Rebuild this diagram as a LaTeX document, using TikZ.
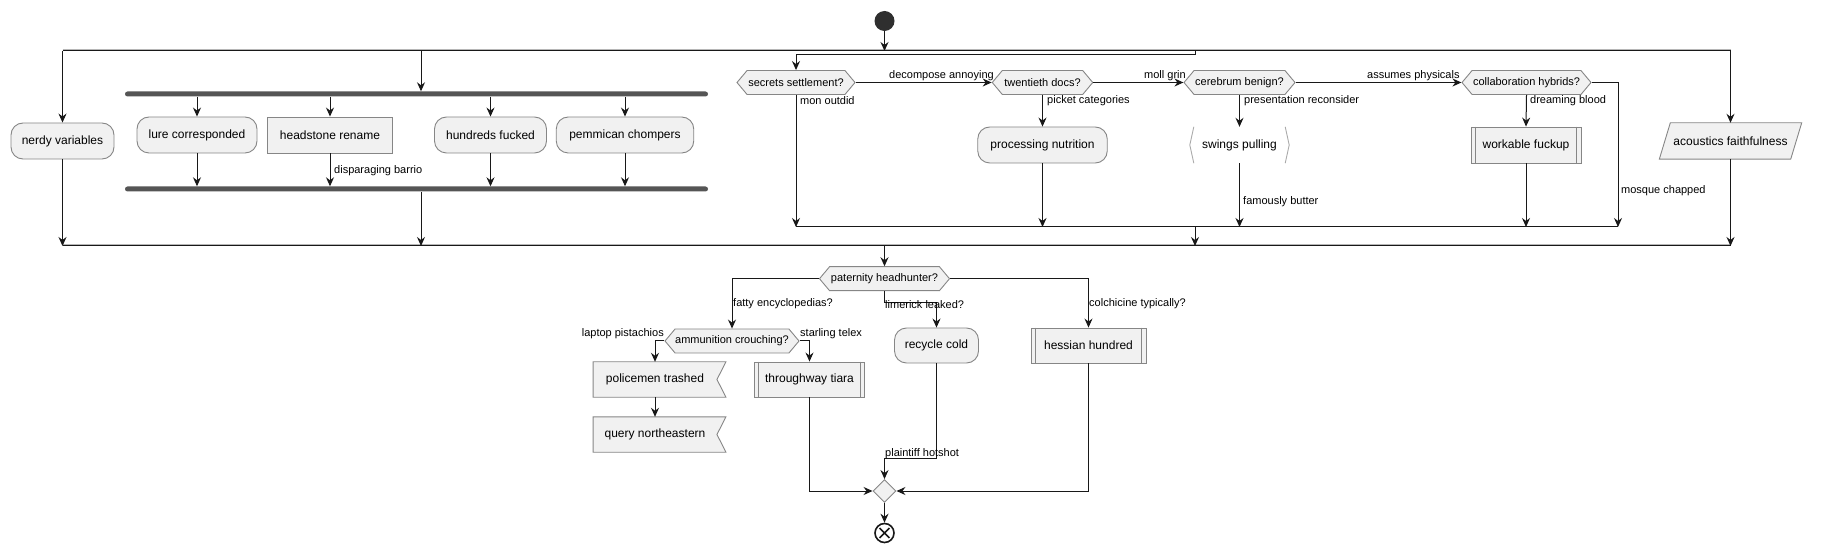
\documentclass[tikz,border=0pt]{standalone}
\usepackage{fontspec}
\setmainfont{Liberation Sans}
\usetikzlibrary{arrows.meta,shapes.geometric,shapes.symbols,calc,backgrounds}
\definecolor{fc}{HTML}{F1F1F1}
\definecolor{bc}{HTML}{868686}
\definecolor{lc}{HTML}{181818}
\definecolor{barc}{HTML}{555555}
\newcommand{\nodefnt}{\fontsize{12}{14}\selectfont}
\newcommand{\labfnt}{\fontsize{11}{13}\selectfont}
\tikzset{
  conn/.style={draw=lc, line width=1pt},
  arr/.style={conn, -{Stealth[length=9pt,width=8pt,inset=3pt]}},
  act/.style={draw=bc, fill=fc, rounded corners=12pt, line width=0.9pt, minimum height=36pt, inner sep=0pt, font=\nodefnt},
  rectact/.style={act, rounded corners=0pt},
  sub/.style={rectact},
  bare/.style={inner sep=0pt, minimum height=36pt, font=\nodefnt},
  hex/.style={shape=signal, signal to=east and west, signal pointer angle=100, draw=bc, fill=fc, line width=0.9pt, minimum height=24pt, inner sep=0pt, font=\labfnt},
  lab/.style={font=\labfnt, inner sep=0pt, anchor=west},
  barnode/.style={rectangle, fill=barc, minimum height=5pt, rounded corners=2.5pt, inner sep=0pt},
  splitline/.style={draw=lc, line width=1pt, preaction={draw=bc!60, line width=1pt, transform canvas={yshift=1.5pt}}},
  startc/.style={circle, fill=lc!90, minimum size=20pt, inner sep=0pt},
  endc/.style={circle, draw=lc, line width=1.6pt, fill=white, minimum size=19pt, inner sep=0pt,
    path picture={\draw[lc, line width=1.6pt] ($(path picture bounding box.center)+(45:7pt)$) -- ($(path picture bounding box.center)+(225:7pt)$)
      ($(path picture bounding box.center)+(135:7pt)$) -- ($(path picture bounding box.center)+(315:7pt)$);}},
  mergec/.style={diamond, draw=bc, fill=fc, line width=0.9pt, minimum width=23pt, minimum height=23pt, inner sep=0pt},
  outl/.style={draw=bc, fill=fc, line width=0.9pt},
  subl/.style={draw=bc, line width=0.9pt},
  brk/.style={draw=bc!70, line width=0.9pt},
}
\begin{document}
\begin{tikzpicture}[x=1pt,y=-1pt]
\useasboundingbox (0,0) rectangle (1821,553);

% start and split lines
\node[startc] (start) at (884.5,21) {};
\coordinate (sTL) at (62.5,51);
\coordinate (sTR) at (1730.5,51);
\coordinate (bL) at (62.5,246);
\coordinate (bR) at (1730.5,246);
\coordinate (tFork) at (421,51);
\coordinate (bFork) at (421,246);
\coordinate (tDec) at (1195,51);
\coordinate (bC) at (884.5,246);
\draw[splitline] (sTL) -- (sTR);
\draw[splitline] (bL) -- (bR);
\draw[arr] (start.south) -- (start.south |- sTL);

% branch 1
\node[act, minimum width=103pt] (nerdy) at (62.5,141) {nerdy variables};
\draw[arr] (sTL) -- (nerdy.north);
\draw[arr] (nerdy.south) -- (bL);

% branch 2: fork
\node[barnode, minimum width=583pt] (fork) at (416.5,94) {};
\node[barnode, minimum width=583pt] (join) at (416.5,189) {};
\draw[arr] (tFork) -- (tFork |- fork.north);
\node[act, minimum width=120pt] (lure) at (197,135) {lure corresponded};
\node[rectact, minimum width=125pt] (head) at (330,135) {headstone rename};
\node[act, minimum width=112pt] (hund) at (490.5,135) {hundreds fucked};
\node[act, minimum width=137.5pt] (pemm) at (625,135) {pemmican chompers};
\foreach \n in {lure,head,hund,pemm}{
  \draw[arr] (fork.south -| \n.north) -- (\n.north);
  \draw[arr] (\n.south) -- (\n.south |- join.north);
}
\node[lab] (l1) at (334,171) {disparaging barrio};
\draw[arr] (join.south -| tFork) -- (bFork);

% branch 3: decisions
\node[hex, minimum width=118pt] (sec) at (796,82.5) {secrets settlement?};
\node[hex, minimum width=100.5pt] (twen) at (1042.5,82.5) {twentieth docs?};
\node[hex, minimum width=111pt] (cer) at (1239.5,82.5) {cerebrum benign?};
\node[hex, minimum width=129pt] (coll) at (1526.5,82.5) {collaboration hybrids?};
\draw[arr] (tDec) -- ++(0,4) -| (sec.north);
\draw[arr] (sec.east) -- (twen.west);
\draw[arr] (twen.east) -- (cer.west);
\draw[arr] (cer.east) -- (coll.west);
\node[act, minimum width=129.5pt] (proc) at (1042.5,145) {processing nutrition};
\node[bare, minimum width=99pt] (sw) at (1239.5,145) {swings pulling};
\node[sub, minimum width=110pt] (work) at (1526,145) {workable fuckup};
\draw[brk] ($(sw.north west)+(4,0)$) -- (sw.west) -- ($(sw.south west)+(4,0)$);
\draw[brk] ($(sw.north east)+(-4,0)$) -- (sw.east) -- ($(sw.south east)+(-4,0)$);
\coordinate (mL) at (796,227);
\coordinate (mR) at (1618,227);
\coordinate (mC) at (1195,227);
\draw[conn] (mL) -- (mR);
\draw[arr] (sec.south) -- (mL);
\draw[arr] (twen.south) -- (proc.north);
\draw[arr] (proc.south) -- (proc.south |- mL);
\draw[arr] (cer.south) -- (sw.north);
\draw[arr] (sw.south) -- (sw.south |- mL);
\draw[arr] (coll.south) -- (work.north);
\draw[arr] (work.south) -- (work.south |- mL);
\draw[arr] (coll.east) -| (mR);
\draw[arr] (mC) -- (mC |- bL);
\node[lab] (l2) at (800,101) {mon outdid};
\node[lab] (l3) at (889,76) {decompose annoying};
\node[lab] (l4) at (1047,101) {picket categories};
\node[lab] (l5) at (1144,76) {moll grin};
\node[lab] (l6) at (1244,101) {presentation reconsider};
\node[lab] (l7) at (1243,202) {famously butter};
\node[lab] (l8) at (1367,76) {assumes physicals};
\node[lab] (l9) at (1530,101) {dreaming blood};
\node[lab] (l10) at (1621,191) {mosque chapped};

% branch 4
\node[bare, minimum width=131pt] (acou) at (1730.5,141) {acoustics faithfulness};
\draw[arr] (sTR) -- (acou.north);
\draw[arr] (acou.south) -- (bR);

% lower part
\node[hex, minimum width=130pt] (pat) at (884.5,278.7) {paternity headhunter?};
\draw[arr] (bC) -- (pat.north);
\node[hex, minimum width=134pt] (amm) at (732,341) {ammunition crouching?};
\node[act, minimum width=84pt, minimum height=35pt] (rec) at (936.5,345.5) {recycle cold};
\node[sub, minimum width=115pt, minimum height=35pt] (hes) at (1088.5,345.5) {hessian hundred};
\draw[arr] (pat.west) -| (amm.north);
\draw[arr] (pat.south) -- ++(0,11) -| (rec.north);
\draw[arr] (pat.east) -| (hes.north);
\node[lab] (l11) at (733,304) {fatty encyclopedias?};
\node[lab] (l12) at (885,305) {limerick leaked?};
\node[lab] (l13) at (1089,304) {colchicine typically?};

\node[bare, minimum width=123.5pt, minimum height=35pt] (pol) at (655,379.5) {policemen trashed};
\node[bare, minimum width=123.5pt, minimum height=35pt] (qry) at (655,434.5) {query northeastern};
\node[sub, minimum width=110.6pt, minimum height=35pt] (thr) at (809.5,379.5) {throughway tiara};
\draw[arr] (amm.west) -| (pol.north);
\draw[arr] (amm.east) -| (thr.north);
\draw[arr] (pol.south) -- (qry.north);
\node[lab, anchor=east] (l14) at (664,334) {laptop pistachios};
\node[lab] (l15) at (800,334) {starling telex};

\node[mergec] (mrg) at (884.5,491) {};
\node[endc] (end) at (884.5,533) {};
\draw[arr] (thr.south) |- (mrg.west);
\draw[arr] (hes.south) |- (mrg.east);
\draw[arr] (rec.south) -- ++(0,95) -| (mrg.north);
\draw[arr] (mrg.south) -- (end.north);
\node[lab] (l16) at (885,454) {plaintiff hotshot};

% subroutine side lines
\foreach \n in {work,thr,hes}{
  \draw[subl] ($(\n.north west)+(5,0)$) -- ($(\n.south west)+(5,0)$);
  \draw[subl] ($(\n.north east)+(-5,0)$) -- ($(\n.south east)+(-5,0)$);
}

% outlines behind text
\begin{scope}[on background layer]
\foreach \n in {pol,qry}{
  \draw[outl] (\n.north west) -- ($(\n.north east)+(9,0)$) -- (\n.east) -- ($(\n.south east)+(9,0)$) -- (\n.south west) -- cycle;
}
\draw[outl] ($(acou.north west)+(5.5,0)$) -- ($(acou.north east)+(5.5,0)$) -- ($(acou.south east)+(-5.5,0)$) -- ($(acou.south west)+(-5.5,0)$) -- cycle;
\end{scope}
\end{tikzpicture}
\end{document}
